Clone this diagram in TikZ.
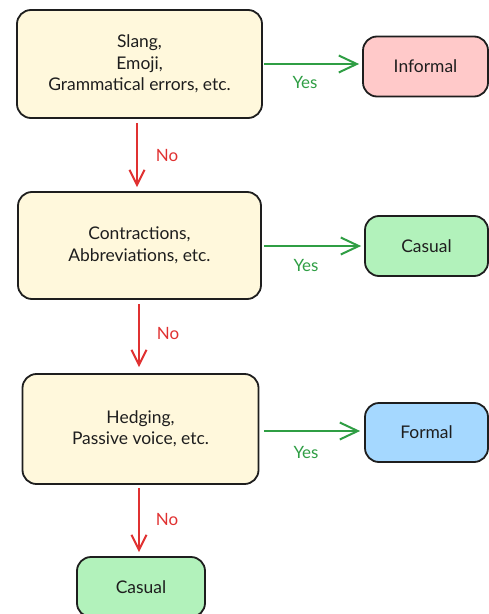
\documentclass[tikz,border=0pt]{standalone}
\usepackage{fontspec}
\setmainfont{Lato}
\usetikzlibrary{arrows.meta}
\definecolor{ink}{HTML}{1E1E1E}
\definecolor{qfill}{HTML}{FFF8DC}
\definecolor{pinkfill}{HTML}{FFC9C9}
\definecolor{greenfill}{HTML}{B2F2BB}
\definecolor{bluefill}{HTML}{A5D8FF}
\definecolor{yescol}{HTML}{2F9E44}
\definecolor{nocol}{HTML}{E03131}
\tikzset{
  base/.style={draw=ink, line width=1.8bp, rounded corners=14bp, text=ink,
    font=\fontsize{17.5}{21.5}\selectfont, align=center, inner sep=0pt},
  qbox/.style={base, fill=qfill},
  rbox/.style={base, fill=#1},
  yesarrow/.style={draw=yescol, line width=2bp, -{Straight Barb[length=18bp,width=17bp,line width=2bp]}},
  noarrow/.style={draw=nocol, line width=2bp, -{Straight Barb[length=15bp,width=15bp,line width=2bp]}},
  yeslab/.style={text=yescol, font=\fontsize{17}{19}\selectfont},
  nolab/.style={text=nocol, font=\fontsize{17}{19}\selectfont}
}
\begin{document}
\begin{tikzpicture}[x=1bp,y=-1bp]
\useasboundingbox (0,0) rectangle (489,614);
\node[qbox, minimum width=245bp, minimum height=108bp] (q1) at (139.5,64) {Slang,\\Emoji,\\Grammatical errors, etc.};
\node[rbox=pinkfill, minimum width=125bp, minimum height=60bp] (r1) at (425.5,66.5) {Informal};
\node[qbox, minimum width=243bp, minimum height=107bp] (q2) at (139.5,245.5) {Contractions,\\Abbreviations, etc.};
\node[rbox=greenfill, minimum width=123bp, minimum height=60bp] (r2) at (426.5,246) {Casual};
\node[qbox, minimum width=236bp, minimum height=110bp] (q3) at (140.5,429) {Hedging,\\Passive voice, etc.};
\node[rbox=bluefill, minimum width=123bp, minimum height=59bp] (r3) at (426.5,432.5) {Formal};
\node[rbox=greenfill, minimum width=128bp, minimum height=60bp] (r4) at (141,587) {Casual};

\draw[yesarrow] ([xshift=1.5bp]q1.east) -- ([xshift=-3bp]q1.east -| r1.west);
\node[yeslab] (y1) at (305,83) {Yes};
\draw[yesarrow] ([xshift=2bp,yshift=-0.5bp]q2.east) -- ([xshift=-3bp,yshift=-0.5bp]q2.east -| r2.west);
\node[yeslab] (y2) at (306,265) {Yes};
\draw[yesarrow] ([xshift=5bp,yshift=-2bp]q3.east) -- ([xshift=-4bp,yshift=-2bp]q3.east -| r3.west);
\node[yeslab] (y3) at (306,452) {Yes};

\draw[noarrow] ([xshift=-2.5bp,yshift=-4bp]q1.south) -- ([xshift=-2.5bp,yshift=4bp]q1.south |- q2.north);
\node[nolab] (n1) at (167,155) {No};
\draw[noarrow] ([xshift=-0.5bp,yshift=-4bp]q2.south) -- ([xshift=-0.5bp,yshift=6bp]q2.south |- q3.north);
\node[nolab] (n2) at (168,333) {No};
\draw[noarrow] ([xshift=-1.5bp,yshift=-3bp]q3.south) -- ([xshift=-1.5bp,yshift=4bp]q3.south |- r4.north);
\node[nolab] (n3) at (167,519) {No};
\end{tikzpicture}
\end{document}
